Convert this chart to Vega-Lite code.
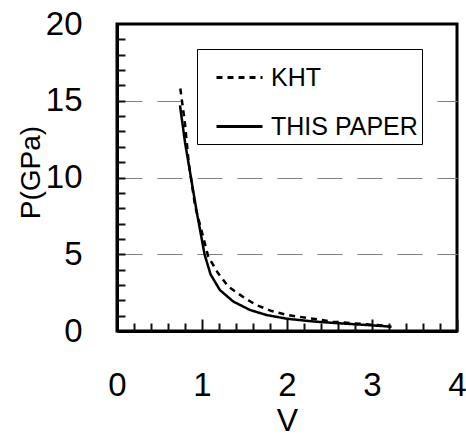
{
  "$schema": "https://vega.github.io/schema/vega-lite/v6.json",
  "width": 340,
  "height": 307,
  "autosize": {"type": "none"},
  "padding": {"left": 117, "top": 24, "right": 9, "bottom": 106},
  "background": "white",
  "config": {"view": {"stroke": "black", "strokeWidth": 3}},
  "data": {
    "values": [
      {"series": "THIS PAPER", "V": 0.741, "P": 14.7},
      {"series": "THIS PAPER", "V": 0.80, "P": 12.3},
      {"series": "THIS PAPER", "V": 0.87, "P": 10.0},
      {"series": "THIS PAPER", "V": 0.94, "P": 7.7},
      {"series": "THIS PAPER", "V": 1.03, "P": 5.0},
      {"series": "THIS PAPER", "V": 1.10, "P": 3.7},
      {"series": "THIS PAPER", "V": 1.21, "P": 2.67},
      {"series": "THIS PAPER", "V": 1.37, "P": 1.91},
      {"series": "THIS PAPER", "V": 1.565, "P": 1.37},
      {"series": "THIS PAPER", "V": 1.76, "P": 1.04},
      {"series": "THIS PAPER", "V": 2.0, "P": 0.8},
      {"series": "THIS PAPER", "V": 2.31, "P": 0.62},
      {"series": "THIS PAPER", "V": 2.54, "P": 0.53},
      {"series": "THIS PAPER", "V": 2.94, "P": 0.39},
      {"series": "THIS PAPER", "V": 3.23, "P": 0.28},
      {"series": "KHT", "V": 0.745, "P": 15.8},
      {"series": "KHT", "V": 0.80, "P": 13.5},
      {"series": "KHT", "V": 0.845, "P": 10.9},
      {"series": "KHT", "V": 0.92, "P": 8.1},
      {"series": "KHT", "V": 1.015, "P": 6.1},
      {"series": "KHT", "V": 1.074, "P": 4.84},
      {"series": "KHT", "V": 1.19, "P": 3.76},
      {"series": "KHT", "V": 1.31, "P": 2.89},
      {"series": "KHT", "V": 1.506, "P": 2.13},
      {"series": "KHT", "V": 1.64, "P": 1.69},
      {"series": "KHT", "V": 1.82, "P": 1.30},
      {"series": "KHT", "V": 2.0, "P": 1.04},
      {"series": "KHT", "V": 2.27, "P": 0.83},
      {"series": "KHT", "V": 2.54, "P": 0.61},
      {"series": "KHT", "V": 2.78, "P": 0.50},
      {"series": "KHT", "V": 3.06, "P": 0.39},
      {"series": "KHT", "V": 3.19, "P": 0.33}
    ]
  },
  "resolve": {"axis": {"x": "independent", "y": "independent"}},
  "layer": [
    {
      "mark": {"type": "line", "color": "black", "strokeWidth": 2.5, "clip": false},
      "encoding": {
        "x": {
          "field": "V",
          "type": "quantitative",
          "scale": {"domain": [0, 4], "nice": false, "zero": false},
          "axis": {
            "orient": "bottom",
            "values": [0, 1, 2, 3, 4],
            "title": "V",
            "titleFont": "Liberation Sans",
            "titleFontSize": 32,
            "titleFontWeight": "normal",
            "titleColor": "black",
            "titleY": 99,
            "titleBaseline": "alphabetic",
            "labelFont": "Liberation Sans",
            "labelFontSize": 33,
            "labelColor": "black",
            "labelPadding": 50,
            "labelFlush": false,
            "labelOverlap": false,
            "ticks": true,
            "tickSize": -12,
            "tickWidth": 2,
            "tickOpacity": 1,
            "tickColor": "#111111",
            "domainColor": "black",
            "domainWidth": 3,
            "grid": false
          }
        },
        "y": {
          "field": "P",
          "type": "quantitative",
          "scale": {"domain": [0, 20], "nice": false, "zero": false},
          "axis": {
            "orient": "left",
            "values": [0, 5, 10, 15, 20],
            "title": "P(GPa)",
            "titleFont": "Liberation Sans",
            "titleFontSize": 28,
            "titleFontWeight": "normal",
            "titleColor": "black",
            "titleX": -72,
            "titleY": 148,
            "labelFont": "Liberation Sans",
            "labelFontSize": 33,
            "labelColor": "black",
            "labelPadding": 35,
            "labelFlush": false,
            "labelOverlap": false,
            "ticks": false,
            "tickSize": 0,
            "domainColor": "black",
            "domainWidth": 3,
            "grid": true,
            "gridColor": "#808080",
            "gridWidth": 1.2,
            "gridDash": [25, 15],
            "gridOpacity": {"condition": {"test": "datum.value > 0 && datum.value < 20", "value": 1}, "value": 0}
          }
        },
        "strokeDash": {
          "field": "series",
          "type": "nominal",
          "scale": {"domain": ["KHT", "THIS PAPER"], "range": [[6, 5], [1, 0]]},
          "legend": {
            "orient": "none",
            "legendX": 80,
            "legendY": 25,
            "title": null,
            "symbolType": "stroke",
            "symbolStrokeColor": "black",
            "symbolStrokeWidth": 3,
            "symbolSize": 2116,
            "symbolOffset": 14,
            "labelFont": "Liberation Sans",
            "labelFontSize": 25,
            "labelColor": "black",
            "labelOffset": 7,
            "labelExpr": "datum.label + '  '",
            "strokeColor": "black",
            "fillColor": "white",
            "padding": 4,
            "rowPadding": 11
          }
        }
      }
    },
    {
      "mark": {"type": "line", "opacity": 0},
      "encoding": {
        "x": {
          "field": "V",
          "type": "quantitative",
          "axis": {
            "orient": "bottom",
            "offset": -8,
            "values": [0.2, 0.4, 0.6, 0.8, 1.2, 1.4, 1.6, 1.8, 2.2, 2.4, 2.6, 2.8, 3.2, 3.4, 3.6, 3.8],
            "labels": false,
            "title": null,
            "domain": false,
            "grid": false,
            "ticks": true,
            "tickSize": 8,
            "tickWidth": 2,
            "tickOpacity": 1,
            "tickColor": "#111111"
          }
        },
        "y": {
          "field": "P",
          "type": "quantitative",
          "axis": {
            "orient": "left",
            "offset": -8,
            "values": [1, 2, 3, 4, 5, 6, 7, 8, 9, 10, 11, 12, 13, 14, 15, 16, 17, 18, 19],
            "labels": false,
            "title": null,
            "domain": false,
            "grid": false,
            "ticks": true,
            "tickSize": 8,
            "tickWidth": 2,
            "tickOpacity": 1,
            "tickColor": "#111111"
          }
        }
      }
    }
  ]
}
